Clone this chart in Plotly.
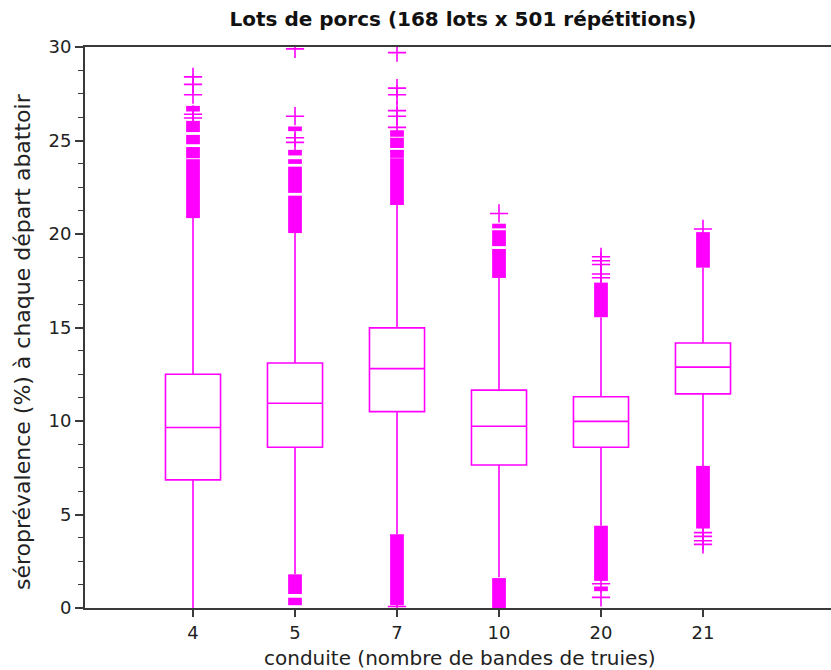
import plotly.graph_objects as go

# ---- data ----
categories = ["4", "5", "7", "10", "20", "21"]
q1 = [6.85, 8.6, 10.5, 7.65, 8.6, 11.45]
median = [9.65, 10.95, 12.8, 9.72, 9.98, 12.88]
q3 = [12.5, 13.1, 14.98, 11.65, 11.3, 14.17]
lower_whisker = [0.0, 1.8, 3.95, 1.65, 4.4, 7.6]
upper_whisker = [20.85, 20.05, 21.55, 17.65, 15.55, 18.2]

# dense clouds of outliers (crosses overlapping into solid bands): category, low, high
band_cat = ["4", "4", "4", "4", "4",
            "5", "5", "5", "5", "5", "5", "5",
            "7", "7", "7", "7", "7",
            "10", "10", "10", "10",
            "20", "20", "20",
            "21", "21"]
band_low = [26.55, 25.45, 24.8, 24.05, 20.85,
            25.5, 24.2, 23.75, 22.2, 20.05, 0.75, 0.15,
            25.2, 24.6, 24.07, 21.55, 0.15,
            20.3, 19.35, 17.65, 0.0,
            15.55, 1.45, 0.9,
            18.2, 4.25]
band_high = [26.85, 26.05, 25.3, 24.65, 24.0,
             25.75, 24.5, 24.0, 23.6, 22.05, 1.8, 0.55,
             25.55, 25.15, 24.5, 24.05, 3.95,
             20.55, 20.2, 19.2, 1.6,
             17.4, 4.4, 1.15,
             20.1, 7.6]

# isolated outliers
out_cat = ["4", "4", "4", "4", "4",
           "5", "5", "5", "5",
           "7", "7", "7", "7", "7", "7", "7",
           "10",
           "20", "20", "20", "20", "20", "20", "20",
           "21", "21", "21", "21", "21"]
out_val = [28.4, 28.0, 27.45, 26.4, 26.2,
           29.9, 26.3, 25.15, 24.9,
           29.7, 27.8, 27.45, 26.6, 26.3, 25.7, 0.08,
           21.1,
           18.78, 18.57, 18.37, 17.86, 17.66, 1.3, 0.57,
           20.27, 4.03, 3.83, 3.6, 3.4]

title_text = "Lots de porcs (168 lots x 501 répétitions)"
x_title = "conduite (nombre de bandes de truies)"
y_title = "séroprévalence (%) à chaque départ abattoir"
y_ticks = [0, 5, 10, 15, 20, 25, 30]

MAG = "#ff00ff"
idx = {c: i for i, c in enumerate(categories)}

fig = go.Figure()

fig.add_trace(go.Box(
    x=list(range(len(categories))),
    q1=q1, median=median, q3=q3,
    lowerfence=lower_whisker, upperfence=upper_whisker,
    width=0.54, whiskerwidth=0,
    fillcolor="white",
    line=dict(color=MAG, width=1.6),
    boxpoints=False,
    showlegend=False,
    hoverinfo="skip",
))

fig.add_trace(go.Bar(
    x=[idx[c] for c in band_cat],
    base=band_low,
    y=[h - l for l, h in zip(band_low, band_high)],
    width=0.135,
    marker=dict(color=MAG, line=dict(width=0)),
    showlegend=False,
    hoverinfo="skip",
))

fig.add_trace(go.Scatter(
    x=[idx[c] for c in out_cat],
    y=out_val,
    mode="markers",
    marker=dict(symbol="cross-thin", size=13, color=MAG,
                line=dict(color=MAG, width=1.6)),
    showlegend=False,
    hoverinfo="skip",
    cliponaxis=True,
))

FONT = "DejaVu Sans"
axis_color = "#3a3a3a"

fig.update_layout(
    width=831, height=670,
    margin=dict(l=85, r=0, t=47, b=62),
    paper_bgcolor="white", plot_bgcolor="white",
    barmode="overlay", boxmode="overlay",
    font=dict(family=FONT, size=18, color="#222"),
    title=dict(text="<b>" + title_text + "</b>",
               x=463 / 831, xref="container", xanchor="center",
               y=1 - 19 / 670, yref="container", yanchor="middle",
               font=dict(family=FONT, size=20, color="#111")),
    xaxis=dict(
        range=[-1.059, 6.255],
        tickmode="array",
        tickvals=list(range(len(categories))),
        ticktext=categories,
        ticks="outside", ticklen=7, tickwidth=1.5, tickcolor=axis_color,
        showline=True, linecolor=axis_color, linewidth=2, mirror=True,
        showgrid=False, zeroline=False,
        tickfont=dict(family=FONT, size=18, color="#222"),
    ),
    yaxis=dict(
        range=[0, 30],
        tickmode="array", tickvals=y_ticks,
        ticks="outside", ticklen=8, tickwidth=1.5, tickcolor=axis_color,
        minor=dict(dtick=1.25, tick0=0, ticks="outside", ticklen=5,
                   tickwidth=1.2, tickcolor=axis_color, showgrid=False),
        showline=True, linecolor=axis_color, linewidth=2, mirror=False,
        showgrid=False, zeroline=False,
        tickfont=dict(family=FONT, size=18, color="#222"),
    ),
    annotations=[
        dict(text=x_title, xref="paper", yref="paper",
             x=(460 - 85) / 746, y=(608 - 658) / 561,
             xanchor="center", yanchor="middle", showarrow=False,
             font=dict(family=FONT, size=20, color="#222")),
        dict(text=y_title, xref="paper", yref="paper",
             x=(22 - 85) / 746, y=(608 - 342) / 561,
             xanchor="center", yanchor="middle", showarrow=False,
             textangle=-90,
             font=dict(family=FONT, size=22, color="#222")),
    ],
)

fig.write_html("out.html")
